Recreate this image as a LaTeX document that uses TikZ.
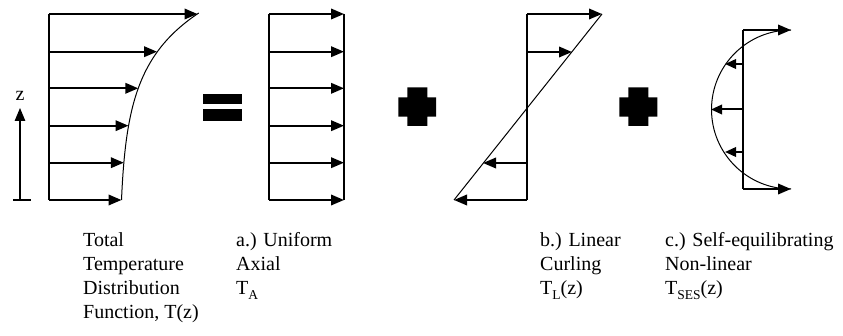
\documentclass[tikz,border=0pt]{standalone}
\usepackage{fontspec}
\setmainfont{Liberation Serif}
\usetikzlibrary{arrows.meta}
\newcommand\tsubx[1]{\raisebox{-0.45ex}{\fontsize{13.5}{13.5}\selectfont #1}}
\begin{document}
\begin{tikzpicture}[x=1pt,y=-1pt,
  arr/.style={line width=2pt,-{Triangle[length=13pt,width=10.5pt]}},
  sarr/.style={line width=2pt,-{Triangle[length=11pt,width=9.5pt]}},
  axisline/.style={line width=1.3pt},
  curve/.style={line width=1pt},
  lbl/.style={anchor=base west,inner sep=0pt,font=\fontsize{20}{24}\selectfont},
  blk/.style={fill=black,draw=none}]
\useasboundingbox (0,0) rectangle (843,336);
% ---------- panel 1 : total
\draw[axisline] (49,14) -- (49,200);
\foreach \y/\t in {14/197.5,51.7/157,88.3/138.3,125.7/128.5,162.7/123.8,200/121.5}
  \draw[arr] (49,\y) -- (\t,\y);
\draw[curve] plot[domain=0:187,samples=80,variable=\h] ({121.5+2.28*(exp(0.019*\h)-1)},{200-\h});
% z axis
\coordinate (zb) at (20,200);
\coordinate (zt) at (20,108);
\draw[line width=1.3pt] (13,200) -- (31,200);
\draw[line width=1.3pt,-{Triangle[length=13pt,width=10.5pt]}] (zb) -- (zt);
\node[inner sep=0pt,font=\fontsize{20}{24}\selectfont] (zl) at (20,96) {z};
% equals
\fill[blk] (203,94.3) rectangle (242,104.3);
\fill[blk] (203,109.3) rectangle (242,120.7);
% ---------- panel 2 : uniform
\draw[axisline] (269,14) -- (269,200);
\draw[axisline] (344,14) -- (344,200);
\foreach \y in {14,51.7,88.3,125.7,162.7,200}
  \draw[arr] (269,\y) -- (344,\y);
% plus 1
\fill[blk] (407.3,87.3) -- (427.3,87.3) -- (427.3,97.3) -- (436,97.3) -- (436,116.7) -- (427.3,116.7) -- (427.3,126) -- (407.3,126) -- (407.3,116.7) -- (398.3,116.7) -- (398.3,97.3) -- (407.3,97.3) -- cycle;
% ---------- panel 3 : linear
\draw[axisline] (527,14) -- (527,200);
\draw[curve] (602,14) -- (454,200);
\draw[arr] (527,14) -- (602,14);
\draw[arr] (527,52) -- (572,52);
\draw[arr] (526,163) -- (483,163);
\draw[arr] (527,200) -- (454,200);
% plus 2
\fill[blk] (628.3,87.3) -- (648.3,87.3) -- (648.3,97.3) -- (657.3,97.3) -- (657.3,116.7) -- (648.3,116.7) -- (648.3,126) -- (628.3,126) -- (628.3,116.7) -- (619.3,116.7) -- (619.3,97.3) -- (628.3,97.3) -- cycle;
% ---------- panel 4 : self-equilibrating
\draw[axisline] (743,30) -- (743,189);
\draw[curve] (791,30) arc[start angle=90,end angle=270,radius=79.5pt];
\draw[arr] (743,30) -- (791,30);
\draw[arr] (743,189) -- (791,189);
\draw[sarr] (743,109.5) -- (711,109.5);
\draw[sarr] (744,64) -- (725,64);
\draw[sarr] (744,152) -- (725,152);
% ---------- labels
\node[lbl] (l1a) at (83,247) {Total};
\node[lbl] (l1b) at (83,271) {Temperature};
\node[lbl] (l1c) at (83,295) {Distribution};
\node[lbl] (l1d) at (83,319) {Function, T(z)};
\node[lbl] (l2a) at (236,247) {a.) Uniform};
\node[lbl] (l2b) at (236,271) {Axial};
\node[lbl] (l2c) at (236,295) {T\tsubx{A}};
\node[lbl] (l3a) at (540,247) {b.) Linear};
\node[lbl] (l3b) at (540,271) {Curling};
\node[lbl] (l3c) at (540,295) {T\tsubx{L}(z)};
\node[lbl] (l4a) at (665,247) {c.) Self-equilibrating};
\node[lbl] (l4b) at (665,271) {Non-linear};
\node[lbl] (l4c) at (665,295) {T\tsubx{SES}(z)};
\end{tikzpicture}
\end{document}
